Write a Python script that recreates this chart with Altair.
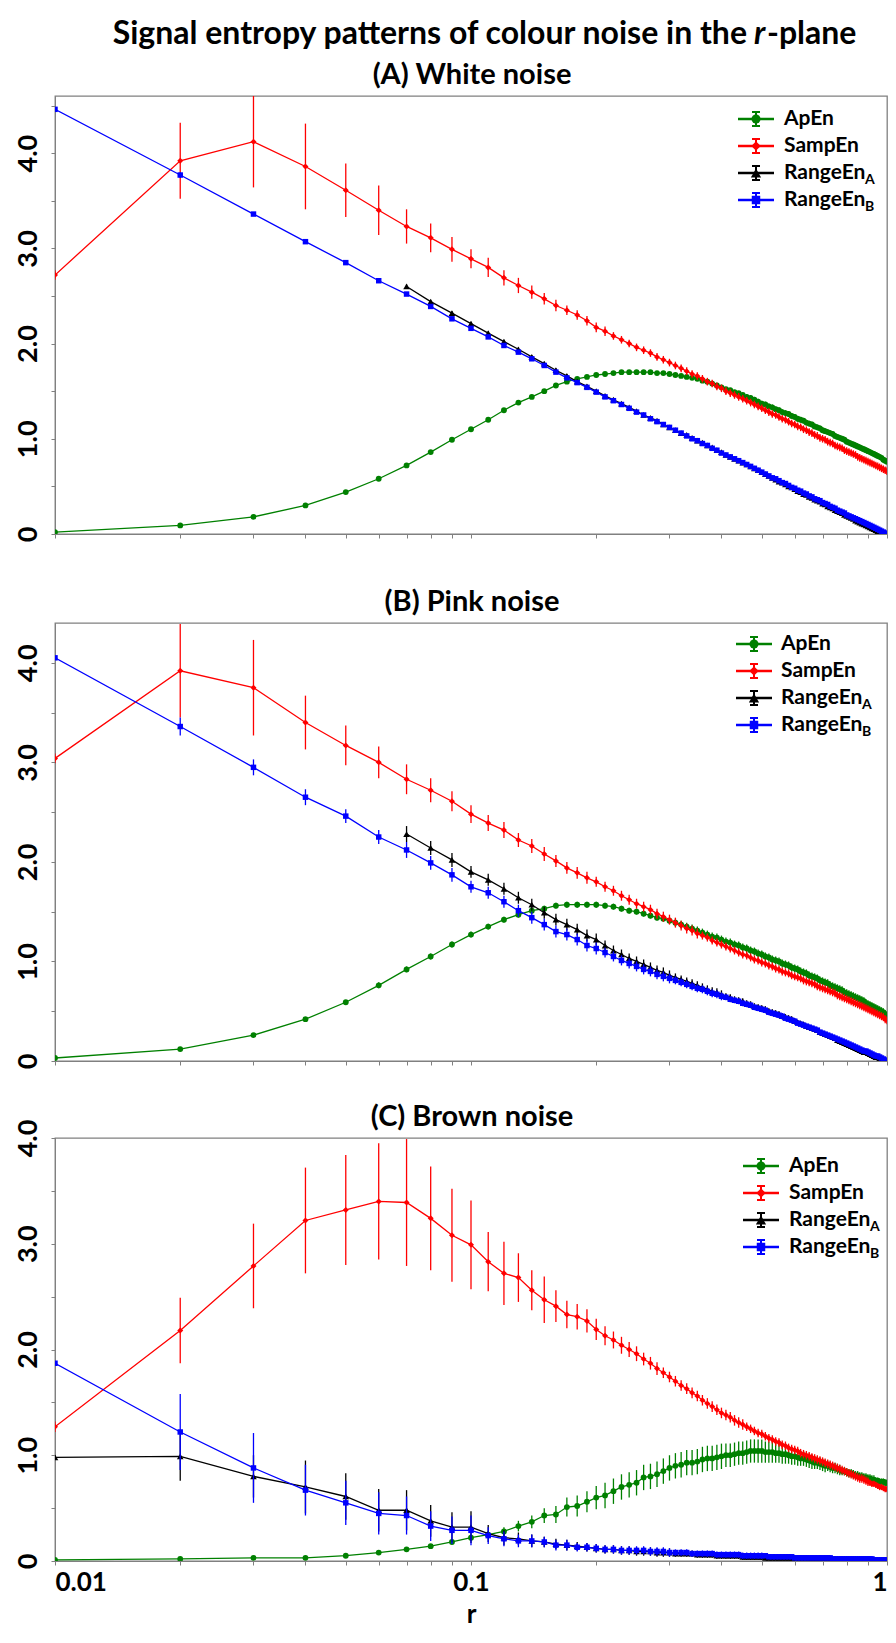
import altair as alt
import pandas as pd

FONT = "Lato"
GRAY = "#808080"

# r grid shared by every series (0.01 ... 1.00)
R = [round(0.01 * i, 2) for i in range(1, 101)]
X_TICKS = [0.01, 0.02, 0.03, 0.04, 0.05, 0.06, 0.07, 0.08, 0.09,
           0.1, 0.2, 0.3, 0.4, 0.5, 0.6, 0.7, 0.8, 0.9, 1]
Y_TICKS = [0, 0.5, 1, 1.5, 2, 2.5, 3, 3.5, 4, 4.5]

SERIES = ["ApEn", "SampEn", "RangeEnA", "RangeEnB"]
COLORS = {"ApEn": "#008000", "SampEn": "#ff0000", "RangeEnA": "#000000", "RangeEnB": "#0000ff"}
SHAPES = {"ApEn": "circle", "SampEn": "diamond", "RangeEnA": "triangle-up", "RangeEnB": "square"}
SIZES = {"ApEn": 34, "SampEn": 36, "RangeEnA": 44, "RangeEnB": 30}
LEGEND_TEXT = {"ApEn": ("ApEn", ""), "SampEn": ("SampEn", ""),
               "RangeEnA": ("RangeEn", "A"), "RangeEnB": ("RangeEn", "B")}

TITLE_PARTS = ("Signal entropy patterns of colour noise in the", "r", "-plane")
SUBTITLES = ["(A) White noise", "(B) Pink noise", "(C) Brown noise"]

# ---------------- (A) white noise ----------------
A_APEN = [0.02, 0.09, 0.18, 0.30, 0.44, 0.58, 0.72, 0.86, 0.99, 1.10,
          1.20, 1.30, 1.38, 1.44, 1.50, 1.56, 1.60, 1.63, 1.65, 1.67,
          1.68, 1.69, 1.70, 1.70, 1.70, 1.70, 1.70, 1.69, 1.69, 1.68,
          1.67, 1.66, 1.65, 1.64, 1.63, 1.61, 1.60, 1.58, 1.56, 1.54,
          1.52, 1.51, 1.49, 1.48, 1.46, 1.44, 1.43, 1.41, 1.39, 1.37,
          1.36, 1.34, 1.33, 1.31, 1.30, 1.28, 1.27, 1.26, 1.24, 1.23,
          1.21, 1.20, 1.19, 1.17, 1.16, 1.15, 1.13, 1.12, 1.11, 1.09,
          1.08, 1.07, 1.06, 1.05, 1.03, 1.02, 1.01, 1.00, 0.99, 0.97,
          0.96, 0.95, 0.94, 0.93, 0.92, 0.91, 0.90, 0.89, 0.88, 0.87,
          0.86, 0.85, 0.84, 0.83, 0.82, 0.81, 0.80, 0.78, 0.77, 0.76]
A_APEN_ERR = [0.01, 0.01, 0.01, 0.01, 0.01, 0.01, 0.01, 0.01, 0.01, 0.02,
              0.02, 0.02, 0.02, 0.02, 0.02, 0.02, 0.02, 0.02, 0.02, 0.02,
              0.02, 0.02, 0.02, 0.02, 0.02, 0.02, 0.02, 0.02, 0.02, 0.02,
              0.02, 0.02, 0.02, 0.02, 0.02, 0.02, 0.02, 0.02, 0.02, 0.02,
              0.02, 0.02, 0.02, 0.02, 0.02, 0.03, 0.03, 0.03, 0.03, 0.03,
              0.03, 0.03, 0.03, 0.03, 0.03, 0.03, 0.03, 0.03, 0.03, 0.03,
              0.03, 0.03, 0.03, 0.03, 0.03, 0.03, 0.03, 0.03, 0.03, 0.03,
              0.03, 0.03, 0.03, 0.03, 0.03, 0.03, 0.03, 0.03, 0.03, 0.03,
              0.03, 0.03, 0.03, 0.03, 0.03, 0.03, 0.03, 0.03, 0.03, 0.03,
              0.03, 0.03, 0.03, 0.03, 0.03, 0.03, 0.03, 0.03, 0.03, 0.03]
A_SAMP = [2.72, 3.92, 4.12, 3.86, 3.61, 3.40, 3.23, 3.11, 2.99, 2.89,
          2.80, 2.69, 2.61, 2.54, 2.47, 2.40, 2.35, 2.30, 2.24, 2.17,
          2.13, 2.08, 2.04, 2.00, 1.96, 1.93, 1.90, 1.86, 1.83, 1.80,
          1.77, 1.74, 1.71, 1.68, 1.66, 1.63, 1.60, 1.58, 1.55, 1.53,
          1.50, 1.48, 1.46, 1.44, 1.42, 1.40, 1.38, 1.36, 1.34, 1.32,
          1.30, 1.28, 1.26, 1.25, 1.23, 1.21, 1.20, 1.18, 1.16, 1.15,
          1.13, 1.12, 1.10, 1.09, 1.07, 1.06, 1.04, 1.03, 1.01, 1.00,
          0.99, 0.97, 0.96, 0.95, 0.93, 0.92, 0.91, 0.90, 0.88, 0.87,
          0.86, 0.85, 0.84, 0.83, 0.81, 0.80, 0.79, 0.78, 0.77, 0.76,
          0.75, 0.74, 0.73, 0.72, 0.71, 0.70, 0.69, 0.68, 0.67, 0.66]
A_SAMP_ERR = [0.05, 0.40, 0.48, 0.45, 0.28, 0.26, 0.18, 0.15, 0.13, 0.10,
              0.10, 0.08, 0.08, 0.07, 0.06, 0.06, 0.05, 0.05, 0.05, 0.05,
              0.05, 0.04, 0.04, 0.04, 0.04, 0.04, 0.04, 0.04, 0.04, 0.04,
              0.04, 0.04, 0.04, 0.04, 0.04, 0.04, 0.04, 0.04, 0.04, 0.04,
              0.04, 0.04, 0.04, 0.04, 0.04, 0.04, 0.04, 0.04, 0.04, 0.04,
              0.04, 0.04, 0.04, 0.04, 0.04, 0.04, 0.04, 0.04, 0.04, 0.04,
              0.04, 0.04, 0.04, 0.04, 0.04, 0.04, 0.04, 0.04, 0.04, 0.04,
              0.04, 0.04, 0.04, 0.04, 0.04, 0.04, 0.04, 0.04, 0.04, 0.04,
              0.04, 0.04, 0.04, 0.04, 0.04, 0.04, 0.04, 0.04, 0.04, 0.04,
              0.04, 0.04, 0.04, 0.04, 0.04, 0.04, 0.04, 0.04, 0.04, 0.04]
A_RA = [None, None, None, None, None, None, 2.60, 2.44, 2.32, 2.21,
        2.11, 2.02, 1.94, 1.86, 1.79, 1.72, 1.66, 1.60, 1.55, 1.50,
        1.45, 1.41, 1.37, 1.33, 1.29, 1.25, 1.22, 1.19, 1.15, 1.12,
        1.09, 1.06, 1.04, 1.01, 0.98, 0.96, 0.93, 0.91, 0.88, 0.86,
        0.83, 0.81, 0.79, 0.77, 0.75, 0.73, 0.71, 0.69, 0.67, 0.65,
        0.63, 0.61, 0.59, 0.57, 0.55, 0.54, 0.52, 0.50, 0.49, 0.47,
        0.45, 0.44, 0.42, 0.41, 0.39, 0.38, 0.36, 0.35, 0.34, 0.32,
        0.31, 0.29, 0.28, 0.27, 0.25, 0.24, 0.23, 0.22, 0.20, 0.19,
        0.18, 0.17, 0.16, 0.14, 0.13, 0.12, 0.11, 0.10, 0.09, 0.08,
        0.07, 0.06, 0.05, 0.04, 0.03, 0.02, 0.01, 0.00, 0.00, 0.00]
A_RA_ERR = [None, None, None, None, None, None, 0.02, 0.02, 0.02, 0.02,
            0.02, 0.02, 0.02, 0.02, 0.02, 0.02, 0.02, 0.02, 0.02, 0.02,
            0.01, 0.01, 0.01, 0.01, 0.01, 0.01, 0.01, 0.01, 0.01, 0.01,
            0.01, 0.01, 0.01, 0.01, 0.01, 0.01, 0.01, 0.01, 0.01, 0.01,
            0.01, 0.01, 0.01, 0.01, 0.01, 0.01, 0.01, 0.01, 0.01, 0.01,
            0.01, 0.01, 0.01, 0.01, 0.01, 0.01, 0.01, 0.01, 0.01, 0.01,
            0.01, 0.01, 0.01, 0.01, 0.01, 0.01, 0.01, 0.01, 0.01, 0.01,
            0.01, 0.01, 0.01, 0.01, 0.01, 0.01, 0.01, 0.01, 0.01, 0.01,
            0.01, 0.01, 0.01, 0.01, 0.01, 0.01, 0.01, 0.01, 0.01, 0.01,
            0.01, 0.01, 0.01, 0.01, 0.01, 0.01, 0.01, 0.01, 0.01, 0.01]
A_RB = [4.46, 3.77, 3.36, 3.07, 2.85, 2.66, 2.52, 2.39, 2.26, 2.16,
        2.07, 1.98, 1.91, 1.84, 1.77, 1.70, 1.64, 1.59, 1.54, 1.49,
        1.44, 1.40, 1.36, 1.32, 1.28, 1.25, 1.21, 1.18, 1.15, 1.12,
        1.09, 1.06, 1.03, 1.00, 0.98, 0.95, 0.93, 0.90, 0.88, 0.85,
        0.83, 0.81, 0.79, 0.77, 0.75, 0.73, 0.71, 0.69, 0.67, 0.65,
        0.63, 0.61, 0.59, 0.58, 0.56, 0.54, 0.53, 0.51, 0.49, 0.48,
        0.46, 0.45, 0.43, 0.42, 0.40, 0.39, 0.37, 0.36, 0.35, 0.33,
        0.32, 0.31, 0.29, 0.28, 0.27, 0.25, 0.24, 0.23, 0.22, 0.20,
        0.19, 0.18, 0.17, 0.16, 0.15, 0.14, 0.13, 0.12, 0.11, 0.10,
        0.09, 0.08, 0.07, 0.06, 0.05, 0.04, 0.03, 0.02, 0.01, 0.00]
A_RB_ERR = [0.01, 0.03, 0.02, 0.02, 0.02, 0.02, 0.02, 0.02, 0.02, 0.02,
            0.02, 0.02, 0.02, 0.02, 0.02, 0.02, 0.02, 0.02, 0.02, 0.02,
            0.01, 0.01, 0.01, 0.01, 0.01, 0.01, 0.01, 0.01, 0.01, 0.01,
            0.01, 0.01, 0.01, 0.01, 0.01, 0.01, 0.01, 0.01, 0.01, 0.01,
            0.01, 0.01, 0.01, 0.01, 0.01, 0.01, 0.01, 0.01, 0.01, 0.01,
            0.01, 0.01, 0.01, 0.01, 0.01, 0.01, 0.01, 0.01, 0.01, 0.01,
            0.01, 0.01, 0.01, 0.01, 0.01, 0.01, 0.01, 0.01, 0.01, 0.01,
            0.01, 0.01, 0.01, 0.01, 0.01, 0.01, 0.01, 0.01, 0.01, 0.01,
            0.01, 0.01, 0.01, 0.01, 0.01, 0.01, 0.01, 0.01, 0.01, 0.01,
            0.01, 0.01, 0.01, 0.01, 0.01, 0.01, 0.01, 0.01, 0.01, 0.01]

# ---------------- (B) pink noise ----------------
B_APEN = [0.03, 0.12, 0.26, 0.42, 0.59, 0.76, 0.92, 1.05, 1.17, 1.27,
          1.35, 1.42, 1.47, 1.51, 1.53, 1.56, 1.57, 1.57, 1.57, 1.57,
          1.56, 1.55, 1.53, 1.51, 1.50, 1.48, 1.46, 1.44, 1.43, 1.41,
          1.39, 1.37, 1.35, 1.33, 1.31, 1.29, 1.27, 1.25, 1.24, 1.22,
          1.20, 1.19, 1.17, 1.16, 1.14, 1.13, 1.11, 1.10, 1.08, 1.07,
          1.05, 1.04, 1.02, 1.01, 1.00, 0.98, 0.97, 0.96, 0.94, 0.93,
          0.92, 0.90, 0.89, 0.88, 0.86, 0.85, 0.84, 0.83, 0.81, 0.80,
          0.79, 0.78, 0.76, 0.75, 0.74, 0.73, 0.72, 0.71, 0.69, 0.68,
          0.67, 0.66, 0.65, 0.64, 0.63, 0.62, 0.61, 0.60, 0.58, 0.57,
          0.56, 0.55, 0.54, 0.53, 0.52, 0.51, 0.50, 0.49, 0.47, 0.46]
B_APEN_ERR = [0.01, 0.02, 0.02, 0.02, 0.02, 0.03, 0.03, 0.03, 0.03, 0.03,
              0.03, 0.03, 0.03, 0.03, 0.03, 0.03, 0.03, 0.03, 0.03, 0.03,
              0.03, 0.03, 0.03, 0.03, 0.03, 0.03, 0.03, 0.03, 0.03, 0.03,
              0.04, 0.04, 0.04, 0.04, 0.04, 0.04, 0.04, 0.04, 0.04, 0.04,
              0.04, 0.04, 0.04, 0.04, 0.04, 0.04, 0.04, 0.04, 0.04, 0.04,
              0.04, 0.04, 0.04, 0.04, 0.04, 0.04, 0.04, 0.04, 0.04, 0.04,
              0.04, 0.04, 0.04, 0.04, 0.04, 0.04, 0.04, 0.04, 0.04, 0.04,
              0.04, 0.04, 0.04, 0.04, 0.04, 0.04, 0.04, 0.04, 0.04, 0.04,
              0.04, 0.04, 0.04, 0.04, 0.04, 0.04, 0.04, 0.04, 0.04, 0.04,
              0.04, 0.04, 0.04, 0.04, 0.04, 0.04, 0.04, 0.04, 0.04, 0.04]
B_SAMP = [3.04, 3.92, 3.75, 3.40, 3.17, 3.00, 2.83, 2.72, 2.61, 2.48,
          2.39, 2.32, 2.22, 2.16, 2.08, 2.01, 1.94, 1.89, 1.84, 1.80,
          1.75, 1.71, 1.66, 1.62, 1.58, 1.55, 1.52, 1.48, 1.45, 1.42,
          1.39, 1.36, 1.33, 1.31, 1.28, 1.26, 1.24, 1.21, 1.19, 1.17,
          1.15, 1.13, 1.11, 1.09, 1.07, 1.06, 1.04, 1.02, 1.01, 0.99,
          0.98, 0.96, 0.95, 0.93, 0.92, 0.90, 0.89, 0.88, 0.86, 0.85,
          0.84, 0.83, 0.81, 0.80, 0.79, 0.78, 0.77, 0.75, 0.74, 0.73,
          0.72, 0.71, 0.70, 0.69, 0.68, 0.66, 0.65, 0.64, 0.63, 0.62,
          0.61, 0.60, 0.59, 0.58, 0.57, 0.56, 0.55, 0.54, 0.53, 0.52,
          0.51, 0.50, 0.49, 0.48, 0.47, 0.46, 0.45, 0.44, 0.42, 0.41]
B_SAMP_ERR = [0.05, 0.47, 0.48, 0.27, 0.20, 0.16, 0.15, 0.12, 0.10, 0.09,
              0.08, 0.08, 0.07, 0.07, 0.07, 0.06, 0.06, 0.06, 0.06, 0.05,
              0.05, 0.05, 0.05, 0.05, 0.05, 0.05, 0.05, 0.05, 0.05, 0.05,
              0.05, 0.05, 0.05, 0.05, 0.05, 0.04, 0.04, 0.04, 0.04, 0.04,
              0.04, 0.04, 0.04, 0.04, 0.04, 0.04, 0.04, 0.04, 0.04, 0.04,
              0.04, 0.04, 0.04, 0.04, 0.04, 0.04, 0.04, 0.04, 0.04, 0.04,
              0.04, 0.04, 0.04, 0.04, 0.04, 0.04, 0.04, 0.04, 0.04, 0.04,
              0.04, 0.04, 0.04, 0.04, 0.04, 0.04, 0.04, 0.04, 0.04, 0.04,
              0.04, 0.04, 0.04, 0.04, 0.04, 0.04, 0.04, 0.04, 0.04, 0.04,
              0.04, 0.04, 0.04, 0.04, 0.04, 0.04, 0.04, 0.04, 0.04, 0.04]
B_RA = [None, None, None, None, None, None, 2.28, 2.14, 2.02, 1.90,
        1.82, 1.73, 1.64, 1.57, 1.49, 1.42, 1.37, 1.32, 1.26, 1.22,
        1.16, 1.11, 1.07, 1.03, 1.00, 0.97, 0.94, 0.91, 0.89, 0.86,
        0.84, 0.82, 0.80, 0.78, 0.76, 0.74, 0.72, 0.70, 0.69, 0.67,
        0.65, 0.64, 0.62, 0.61, 0.60, 0.58, 0.57, 0.55, 0.54, 0.53,
        0.52, 0.50, 0.49, 0.48, 0.47, 0.45, 0.44, 0.43, 0.42, 0.40,
        0.39, 0.38, 0.37, 0.35, 0.34, 0.33, 0.32, 0.31, 0.29, 0.28,
        0.27, 0.26, 0.25, 0.24, 0.23, 0.21, 0.20, 0.19, 0.18, 0.17,
        0.16, 0.15, 0.14, 0.13, 0.12, 0.11, 0.10, 0.09, 0.09, 0.08,
        0.07, 0.06, 0.05, 0.04, 0.04, 0.03, 0.02, 0.01, 0.00, 0.00]
B_RA_ERR = [None, None, None, None, None, None, 0.08, 0.07, 0.07, 0.06,
            0.06, 0.06, 0.06, 0.06, 0.06, 0.06, 0.06, 0.06, 0.06, 0.06,
            0.05, 0.05, 0.05, 0.05, 0.05, 0.05, 0.05, 0.05, 0.05, 0.05,
            0.04, 0.04, 0.04, 0.04, 0.04, 0.04, 0.04, 0.04, 0.04, 0.04,
            0.03, 0.03, 0.03, 0.03, 0.03, 0.03, 0.03, 0.03, 0.03, 0.03,
            0.03, 0.03, 0.03, 0.03, 0.03, 0.03, 0.03, 0.03, 0.03, 0.03,
            0.02, 0.02, 0.02, 0.02, 0.02, 0.02, 0.02, 0.02, 0.02, 0.02,
            0.02, 0.02, 0.02, 0.02, 0.02, 0.02, 0.02, 0.02, 0.02, 0.02,
            0.02, 0.02, 0.02, 0.02, 0.02, 0.02, 0.02, 0.02, 0.02, 0.02,
            0.02, 0.02, 0.02, 0.02, 0.02, 0.02, 0.02, 0.02, 0.02, 0.02]
B_RB = [4.05, 3.36, 2.95, 2.65, 2.46, 2.25, 2.12, 1.99, 1.87, 1.75,
        1.69, 1.60, 1.51, 1.44, 1.37, 1.30, 1.27, 1.22, 1.16, 1.13,
        1.09, 1.05, 1.01, 0.98, 0.95, 0.92, 0.90, 0.87, 0.85, 0.83,
        0.81, 0.79, 0.77, 0.75, 0.73, 0.72, 0.70, 0.68, 0.67, 0.65,
        0.64, 0.62, 0.61, 0.60, 0.58, 0.57, 0.56, 0.54, 0.53, 0.52,
        0.51, 0.49, 0.48, 0.47, 0.46, 0.45, 0.43, 0.42, 0.41, 0.40,
        0.38, 0.37, 0.36, 0.35, 0.34, 0.33, 0.32, 0.31, 0.29, 0.28,
        0.27, 0.26, 0.25, 0.24, 0.23, 0.22, 0.21, 0.20, 0.19, 0.18,
        0.17, 0.16, 0.15, 0.14, 0.13, 0.12, 0.11, 0.10, 0.10, 0.09,
        0.08, 0.07, 0.06, 0.05, 0.05, 0.04, 0.03, 0.02, 0.01, 0.00]
B_RB_ERR = [0.02, 0.09, 0.08, 0.08, 0.07, 0.07, 0.08, 0.07, 0.07, 0.06,
            0.06, 0.06, 0.06, 0.06, 0.06, 0.06, 0.06, 0.06, 0.06, 0.06,
            0.05, 0.05, 0.05, 0.05, 0.05, 0.05, 0.05, 0.05, 0.05, 0.05,
            0.04, 0.04, 0.04, 0.04, 0.04, 0.04, 0.04, 0.04, 0.04, 0.04,
            0.03, 0.03, 0.03, 0.03, 0.03, 0.03, 0.03, 0.03, 0.03, 0.03,
            0.03, 0.03, 0.03, 0.03, 0.03, 0.03, 0.03, 0.03, 0.03, 0.03,
            0.02, 0.02, 0.02, 0.02, 0.02, 0.02, 0.02, 0.02, 0.02, 0.02,
            0.02, 0.02, 0.02, 0.02, 0.02, 0.02, 0.02, 0.02, 0.02, 0.02,
            0.02, 0.02, 0.02, 0.02, 0.02, 0.02, 0.02, 0.02, 0.02, 0.02,
            0.02, 0.02, 0.02, 0.02, 0.02, 0.02, 0.02, 0.02, 0.02, 0.02]

# ---------------- (C) brown noise ----------------
C_APEN = [0.01, 0.02, 0.03, 0.03, 0.05, 0.08, 0.11, 0.14, 0.18, 0.22,
          0.25, 0.28, 0.33, 0.37, 0.43, 0.44, 0.51, 0.52, 0.56, 0.60,
          0.62, 0.66, 0.70, 0.72, 0.74, 0.79, 0.80, 0.82, 0.85, 0.88,
          0.90, 0.91, 0.93, 0.93, 0.94, 0.96, 0.97, 0.97, 0.98, 0.99,
          1.00, 1.00, 1.01, 1.02, 1.02, 1.03, 1.04, 1.04, 1.04, 1.04,
          1.03, 1.03, 1.03, 1.02, 1.02, 1.01, 1.01, 1.00, 0.99, 0.99,
          0.98, 0.97, 0.97, 0.96, 0.95, 0.94, 0.93, 0.93, 0.92, 0.91,
          0.90, 0.90, 0.89, 0.88, 0.88, 0.87, 0.86, 0.85, 0.85, 0.84,
          0.83, 0.83, 0.82, 0.81, 0.81, 0.80, 0.80, 0.79, 0.79, 0.78,
          0.78, 0.77, 0.77, 0.76, 0.76, 0.75, 0.75, 0.75, 0.74, 0.74]
C_APEN_ERR = [0.00, 0.01, 0.01, 0.01, 0.01, 0.01, 0.02, 0.02, 0.02, 0.03,
              0.03, 0.04, 0.05, 0.06, 0.07, 0.08, 0.09, 0.10, 0.10, 0.11,
              0.12, 0.12, 0.12, 0.12, 0.12, 0.12, 0.12, 0.12, 0.12, 0.12,
              0.12, 0.12, 0.12, 0.12, 0.12, 0.12, 0.12, 0.12, 0.12, 0.12,
              0.11, 0.11, 0.11, 0.11, 0.11, 0.11, 0.11, 0.11, 0.11, 0.11,
              0.10, 0.10, 0.10, 0.09, 0.09, 0.09, 0.09, 0.08, 0.08, 0.08,
              0.08, 0.07, 0.07, 0.07, 0.07, 0.07, 0.06, 0.06, 0.06, 0.06,
              0.06, 0.05, 0.05, 0.05, 0.05, 0.05, 0.05, 0.04, 0.04, 0.04,
              0.04, 0.04, 0.04, 0.04, 0.04, 0.04, 0.04, 0.04, 0.04, 0.04,
              0.04, 0.04, 0.04, 0.03, 0.03, 0.03, 0.03, 0.03, 0.03, 0.03]
C_SAMP = [1.27, 2.18, 2.79, 3.22, 3.32, 3.40, 3.39, 3.24, 3.08, 2.99,
          2.83, 2.72, 2.68, 2.56, 2.47, 2.41, 2.33, 2.31, 2.27, 2.19,
          2.13, 2.09, 2.04, 2.00, 1.96, 1.91, 1.87, 1.82, 1.78, 1.74,
          1.70, 1.66, 1.63, 1.59, 1.56, 1.52, 1.49, 1.46, 1.43, 1.40,
          1.38, 1.36, 1.33, 1.31, 1.29, 1.27, 1.25, 1.23, 1.21, 1.20,
          1.18, 1.16, 1.15, 1.13, 1.12, 1.10, 1.09, 1.07, 1.06, 1.05,
          1.04, 1.02, 1.01, 1.00, 0.99, 0.98, 0.97, 0.96, 0.95, 0.94,
          0.93, 0.92, 0.91, 0.90, 0.89, 0.88, 0.87, 0.86, 0.85, 0.84,
          0.83, 0.82, 0.81, 0.80, 0.79, 0.78, 0.78, 0.77, 0.76, 0.75,
          0.74, 0.73, 0.73, 0.72, 0.71, 0.70, 0.70, 0.69, 0.68, 0.68]
C_SAMP_ERR = [0.05, 0.31, 0.40, 0.50, 0.52, 0.55, 0.60, 0.49, 0.44, 0.42,
              0.28, 0.30, 0.23, 0.19, 0.22, 0.15, 0.13, 0.12, 0.11, 0.10,
              0.09, 0.08, 0.08, 0.07, 0.07, 0.06, 0.06, 0.06, 0.05, 0.05,
              0.05, 0.05, 0.05, 0.05, 0.05, 0.05, 0.05, 0.05, 0.05, 0.05,
              0.05, 0.05, 0.05, 0.05, 0.05, 0.04, 0.04, 0.04, 0.04, 0.04,
              0.04, 0.04, 0.04, 0.04, 0.04, 0.04, 0.04, 0.04, 0.04, 0.04,
              0.04, 0.04, 0.04, 0.04, 0.04, 0.04, 0.04, 0.04, 0.04, 0.04,
              0.04, 0.04, 0.04, 0.04, 0.04, 0.04, 0.04, 0.04, 0.04, 0.04,
              0.04, 0.04, 0.04, 0.04, 0.04, 0.04, 0.04, 0.04, 0.04, 0.04,
              0.03, 0.03, 0.03, 0.03, 0.03, 0.03, 0.03, 0.03, 0.03, 0.03]
C_RA = [0.98, 0.99, 0.80, 0.70, 0.61, 0.48, 0.48, 0.38, 0.32, 0.32,
        0.26, 0.22, 0.21, 0.19, 0.18, 0.16, 0.15, 0.14, 0.13, 0.12,
        0.11, 0.11, 0.10, 0.10, 0.09, 0.09, 0.09, 0.08, 0.08, 0.08,
        0.07, 0.07, 0.07, 0.07, 0.06, 0.06, 0.06, 0.06, 0.05, 0.05,
        0.05, 0.05, 0.05, 0.05, 0.04, 0.04, 0.04, 0.04, 0.04, 0.04,
        0.03, 0.03, 0.03, 0.03, 0.03, 0.03, 0.03, 0.03, 0.03, 0.03,
        0.03, 0.03, 0.03, 0.03, 0.02, 0.02, 0.02, 0.02, 0.02, 0.02,
        0.02, 0.02, 0.02, 0.02, 0.02, 0.02, 0.02, 0.02, 0.02, 0.02,
        0.01, 0.01, 0.01, 0.01, 0.01, 0.01, 0.01, 0.01, 0.01, 0.01,
        0.01, 0.01, 0.01, 0.01, 0.00, 0.00, 0.00, 0.00, 0.00, 0.00]
C_RA_ERR = [0.02, 0.23, 0.20, 0.25, 0.22, 0.20, 0.19, 0.15, 0.14, 0.15,
            0.08, 0.07, 0.06, 0.06, 0.05, 0.05, 0.05, 0.04, 0.04, 0.04,
            0.04, 0.04, 0.04, 0.04, 0.04, 0.04, 0.04, 0.04, 0.04, 0.04,
            0.03, 0.03, 0.03, 0.03, 0.03, 0.03, 0.03, 0.03, 0.03, 0.03,
            0.03, 0.03, 0.03, 0.03, 0.03, 0.03, 0.03, 0.03, 0.03, 0.03,
            0.02, 0.02, 0.02, 0.02, 0.02, 0.02, 0.02, 0.02, 0.02, 0.02,
            0.02, 0.02, 0.02, 0.02, 0.02, 0.02, 0.02, 0.02, 0.02, 0.02,
            0.02, 0.02, 0.02, 0.02, 0.02, 0.02, 0.02, 0.02, 0.02, 0.02,
            0.02, 0.02, 0.02, 0.02, 0.02, 0.02, 0.02, 0.02, 0.02, 0.02,
            0.02, 0.02, 0.02, 0.02, 0.02, 0.02, 0.02, 0.02, 0.02, 0.02]
C_RB = [1.87, 1.22, 0.88, 0.67, 0.55, 0.45, 0.43, 0.33, 0.29, 0.29,
        0.24, 0.21, 0.19, 0.19, 0.18, 0.15, 0.15, 0.13, 0.13, 0.12,
        0.11, 0.11, 0.10, 0.10, 0.10, 0.10, 0.09, 0.09, 0.09, 0.08,
        0.08, 0.08, 0.08, 0.07, 0.07, 0.07, 0.07, 0.07, 0.06, 0.06,
        0.06, 0.06, 0.06, 0.06, 0.05, 0.05, 0.05, 0.05, 0.05, 0.05,
        0.05, 0.04, 0.04, 0.04, 0.04, 0.04, 0.04, 0.04, 0.04, 0.03,
        0.03, 0.03, 0.03, 0.03, 0.03, 0.03, 0.03, 0.03, 0.03, 0.03,
        0.03, 0.03, 0.03, 0.02, 0.02, 0.02, 0.02, 0.02, 0.02, 0.02,
        0.02, 0.02, 0.02, 0.02, 0.02, 0.02, 0.02, 0.02, 0.02, 0.02,
        0.02, 0.02, 0.01, 0.01, 0.01, 0.01, 0.01, 0.01, 0.01, 0.01]
C_RB_ERR = [0.02, 0.36, 0.33, 0.24, 0.21, 0.20, 0.18, 0.14, 0.13, 0.14,
            0.08, 0.07, 0.06, 0.06, 0.05, 0.05, 0.05, 0.04, 0.04, 0.04,
            0.04, 0.04, 0.04, 0.04, 0.04, 0.04, 0.04, 0.04, 0.04, 0.04,
            0.03, 0.03, 0.03, 0.03, 0.03, 0.03, 0.03, 0.03, 0.03, 0.03,
            0.03, 0.03, 0.03, 0.03, 0.03, 0.03, 0.03, 0.03, 0.03, 0.03,
            0.02, 0.02, 0.02, 0.02, 0.02, 0.02, 0.02, 0.02, 0.02, 0.02,
            0.02, 0.02, 0.02, 0.02, 0.02, 0.02, 0.02, 0.02, 0.02, 0.02,
            0.02, 0.02, 0.02, 0.02, 0.02, 0.02, 0.02, 0.02, 0.02, 0.02,
            0.02, 0.02, 0.02, 0.02, 0.02, 0.02, 0.02, 0.02, 0.02, 0.02,
            0.02, 0.02, 0.02, 0.02, 0.02, 0.02, 0.02, 0.02, 0.02, 0.02]

PANEL_DATA = [
    {"ApEn": (A_APEN, A_APEN_ERR), "SampEn": (A_SAMP, A_SAMP_ERR),
     "RangeEnA": (A_RA, A_RA_ERR), "RangeEnB": (A_RB, A_RB_ERR)},
    {"ApEn": (B_APEN, B_APEN_ERR), "SampEn": (B_SAMP, B_SAMP_ERR),
     "RangeEnA": (B_RA, B_RA_ERR), "RangeEnB": (B_RB, B_RB_ERR)},
    {"ApEn": (C_APEN, C_APEN_ERR), "SampEn": (C_SAMP, C_SAMP_ERR),
     "RangeEnA": (C_RA, C_RA_ERR), "RangeEnB": (C_RB, C_RB_ERR)},
]

W = 832
ONE = pd.DataFrame({"k": [0]})


def series_frame(values, errors):
    rows = []
    for r, v, e in zip(R, values, errors):
        if v is None:
            continue
        rows.append({"r": r, "v": v, "lo": v - e, "hi": v + e})
    return pd.DataFrame(rows)


def legend_layers(xs, xt, y0, dy):
    out = []
    for i, key in enumerate(SERIES):
        y = y0 + i * dy
        c = COLORS[key]
        base = alt.Chart(ONE)
        out.append(base.mark_rule(color=c, strokeWidth=2.5).encode(
            x=alt.value(xs - 18), x2=alt.value(xs + 18), y=alt.value(y)))
        out.append(base.mark_rule(color=c, strokeWidth=2).encode(
            x=alt.value(xs), y=alt.value(y - 7), y2=alt.value(y + 7)))
        for cy in (y - 7, y + 7):
            out.append(base.mark_rule(color=c, strokeWidth=2).encode(
                x=alt.value(xs - 4), x2=alt.value(xs + 4), y=alt.value(cy)))
        out.append(base.mark_point(shape=SHAPES[key], filled=True, opacity=1,
                                   size=SIZES[key] * 2.4, color=c).encode(
            x=alt.value(xs), y=alt.value(y)))
        main, sub = LEGEND_TEXT[key]
        out.append(base.mark_text(text=main, align="left", baseline="middle",
                                  font=FONT, fontSize=21, fontWeight="bold",
                                  color="black").encode(x=alt.value(xt), y=alt.value(y)))
        if sub:
            out.append(base.mark_text(text=sub, align="left", baseline="middle",
                                      font=FONT, fontSize=14, fontWeight="bold",
                                      color="black").encode(x=alt.value(xt + 81), y=alt.value(y + 7)))
    return out


def make_panel(idx, ymax, height, legend_pos, x_extent, show_labels):
    xs = alt.Scale(type="log", domain=[0.01, 1], nice=False)
    ys = alt.Scale(domain=[0, ymax], nice=False, zero=False)
    yaxis = alt.Axis(
        values=[v for v in Y_TICKS if v <= ymax + 1e-9], title=None, grid=False,
        labelExpr="datum.value == 0 ? '0' : (datum.value % 1 == 0 ? format(datum.value, '.1f') : '')",
        labelAngle=270, labelAlign="center", labelBaseline="alphabetic", labelPadding=15,
        labelFont=FONT, labelFontSize=27, labelFontWeight="bold", labelColor="black",
        labelOverlap=False, tickSize=4, tickColor=GRAY, domainColor=GRAY,
        minExtent=49, maxExtent=49)
    if show_labels:
        xaxis = alt.Axis(
            values=X_TICKS, title="r", grid=False,
            labelExpr="datum.value == 0.01 ? '0.01' : (datum.value == 0.1 ? '0.1' : (datum.value == 1 ? '1' : ''))",
            labelFlush=True, labelOverlap=False, labelPadding=4,
            labelFont=FONT, labelFontSize=26, labelFontWeight="bold", labelColor="black",
            titleFont=FONT, titleFontSize=26, titleFontWeight="bold", titleColor="black",
            titlePadding=6, tickSize=4, tickColor=GRAY, domainColor=GRAY)
    else:
        xaxis = alt.Axis(values=X_TICKS, title=None, grid=False, labels=False,
                         tickSize=4, tickColor=GRAY, domainColor=GRAY,
                         minExtent=x_extent, maxExtent=x_extent)

    layers = []
    for key in SERIES:
        vals, errs = PANEL_DATA[idx][key]
        df = series_frame(vals, errs)
        c = COLORS[key]
        base = alt.Chart(df)
        layers.append(base.mark_rule(color=c, strokeWidth=1.3, clip=True).encode(
            x=alt.X("r:Q", scale=xs, axis=xaxis),
            y=alt.Y("lo:Q", scale=ys, axis=yaxis), y2="hi:Q"))
        layers.append(base.mark_line(color=c, strokeWidth=1.3, clip=True).encode(
            x=alt.X("r:Q", scale=xs, axis=xaxis),
            y=alt.Y("v:Q", scale=ys, axis=yaxis)))
        layers.append(base.mark_point(shape=SHAPES[key], filled=True, opacity=1,
                                      size=SIZES[key], color=c, clip=True).encode(
            x=alt.X("r:Q", scale=xs, axis=xaxis),
            y=alt.Y("v:Q", scale=ys, axis=yaxis)))

    layers += legend_layers(*legend_pos)

    layers.append(alt.Chart(ONE).mark_text(
        text=SUBTITLES[idx], align="center", baseline="middle", font=FONT,
        fontSize=29, fontWeight="bold", color="black").encode(
        x=alt.value(W / 2 + 1), y=alt.value(-21)))

    if idx == 0:
        # headline set in three pieces so that the variable r can be italic
        x0 = 692
        t1, t2, t3 = TITLE_PARTS
        common = dict(baseline="middle", font=FONT, fontSize=32, fontWeight="bold", color="black")
        layers.append(alt.Chart(ONE).mark_text(text=t1, align="right", **common).encode(
            x=alt.value(x0), y=alt.value(-62)))
        layers.append(alt.Chart(ONE).mark_text(text=t2, align="left", fontStyle="italic", **common).encode(
            x=alt.value(x0 + 7), y=alt.value(-62)))
        layers.append(alt.Chart(ONE).mark_text(text=t3, align="left", **common).encode(
            x=alt.value(x0 + 20), y=alt.value(-62)))

    return alt.layer(*layers).properties(width=W, height=height)


panel_a = make_panel(0, 4.6, 438, (701, 729, 23, 27), 20, False)
panel_b = make_panel(1, 4.4, 438, (699, 726, 21, 27), 4, False)
panel_c = make_panel(2, 4.0, 423, (706, 734, 28, 27), 0, True)

chart = alt.vconcat(panel_a, panel_b, panel_c, spacing=32).properties(
    padding={"left": 5, "top": 17, "right": 5, "bottom": 5}
).configure(font=FONT).configure_view(stroke=GRAY, strokeWidth=1.3)

chart.save("out.html", embed_options={"renderer": "svg", "actions": False})
